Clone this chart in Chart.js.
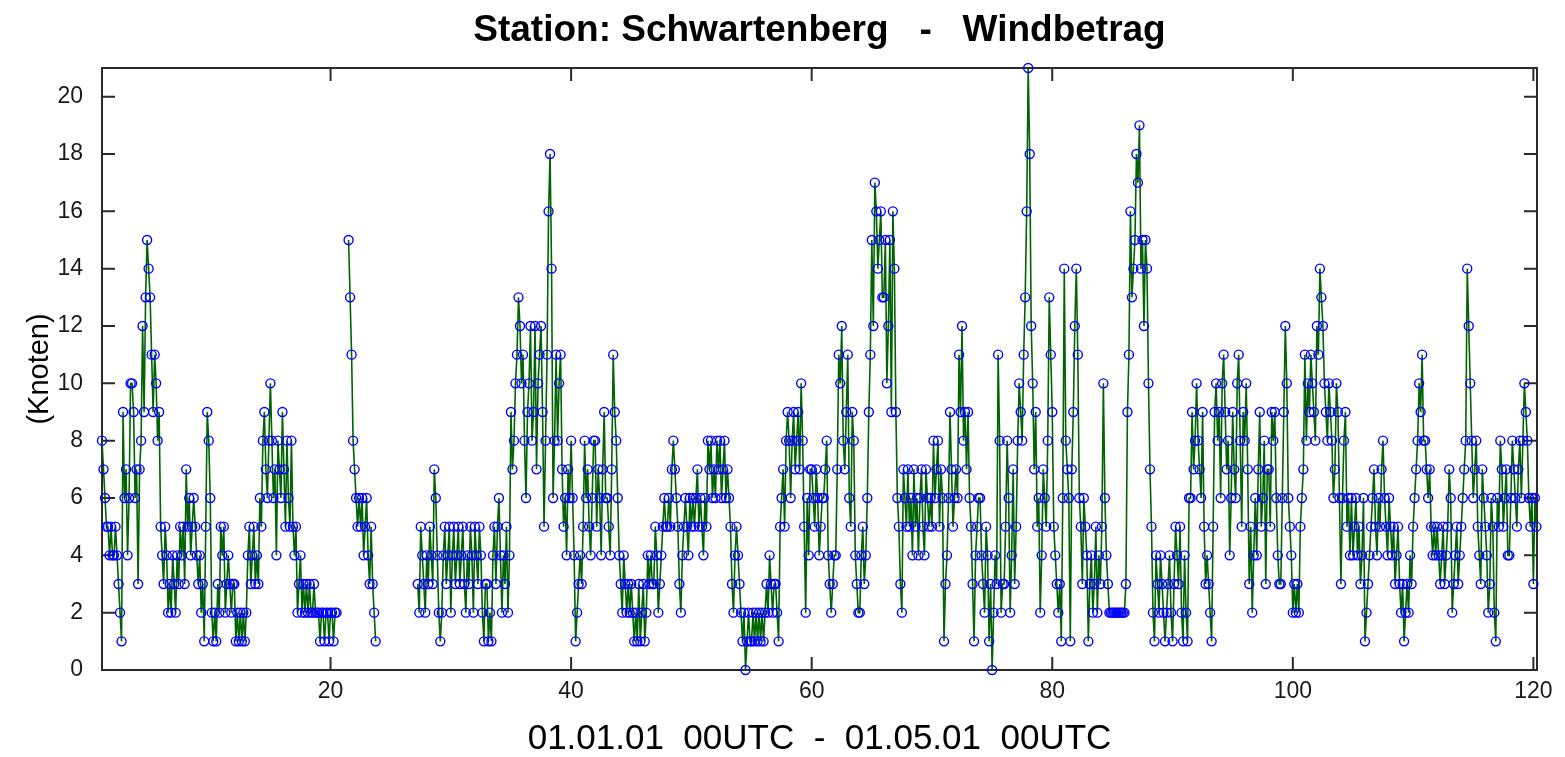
<!DOCTYPE html>
<html>
<head>
<meta charset="utf-8">
<title>Station: Schwartenberg - Windbetrag</title>
<script src="https://cdn.jsdelivr.net/npm/chart.js@4.4.1/dist/chart.umd.min.js"></script>
<style>
  html, body { margin: 0; padding: 0; background: #fff; }
  #wrap { width: 1565px; height: 757px; }
</style>
</head>
<body>
<div id="wrap"><canvas id="wind"></canvas></div>
<script>
// wind speed (knots), one reading every 3 hours starting at day 1, null = no data
const startDay = 1;
const stepDays = 0.125;

const days001to010 = [
  8,7,6,5,5,4,5,4, 4,5,4,3,2,1,9,6, 7,4,6,10,10,9,6,7, 3,7,8,12,9,13,15,14, 13,11,9,11,10,8,9,5,
  4,3,5,4,2,3,2,4, 3,2,4,3,5,4,5,3, 7,5,6,4,5,6,5,4, 3,4,2,3,1,5,9,8, 6,2,1,2,1,3,2,5,
];
const days011to020 = [
  4,5,2,3,4,3,2,3, 3,1,2,1,2,1,2,1, 2,4,5,3,4,5,3,4, 3,6,5,8,9,7,6,8, 10,8,6,7,4,8,7,6,
  9,7,5,8,6,5,8,5, 4,5,2,3,4,2,3,2, 3,2,3,2,2,3,2,2, 2,1,2,2,1,2,2,1, 2,2,1,2,2,null,null,null,
];
const days021to030 = [
  null,null,null,null,15,13,11,8, 7,6,5,6,5,6,4,5, 6,4,3,5,3,2,1,null,
  null,null,null,null,null,null,null,null, null,null,null,null,null,null,null,null,
  null,null,null,null,null,null,null,null, null,null,3,2,5,4,3,2,
  4,3,5,4,3,7,6,4, 2,1,2,4,5,3,4,5, 2,4,5,3,4,5,3,4,
];
const days031to040 = [
  5,3,2,4,3,5,4,2, 5,4,3,5,4,2,1,3, 3,1,2,1,4,5,3,5, 6,4,2,4,3,5,2,4, 9,7,8,10,11,13,12,10,
  11,8,6,9,10,12,8,9, 12,7,10,11,12,9,5,8, 11,16,18,14,6,8,11,8, 10,11,7,5,6,4,7,6, 8,6,4,1,2,3,4,3,
];
const days041to050 = [
  5,8,6,7,5,4,6,8, 8,5,7,6,4,7,9,6, 6,5,4,7,11,9,8,6, 4,3,2,4,3,2,3,2, 3,2,1,2,1,3,1,2,
  3,1,2,4,3,4,3,3, 5,4,2,3,4,5,6,5, 5,6,5,7,8,7,6,5, 3,2,4,5,6,5,4,6, 5,6,5,6,7,5,6,5,
];
const days051to060 = [
  4,6,5,8,7,8,6,7, 6,8,7,8,6,7,8,6, 7,6,5,3,2,4,5,4, 3,2,1,2,0,1,2,1, 1,2,1,2,1,2,1,2,
  1,2,3,2,4,3,2,3, 3,2,1,5,6,7,5,8, 9,8,6,8,9,7,8,9, 7,10,8,5,2,6,4,7, 7,6,5,7,6,4,5,6,
];
const days061to070 = [
  6,7,8,4,3,2,3,4, 4,7,11,10,12,8,7,9, 11,6,5,9,8,4,3,2, 2,4,5,3,4,6,9,11, 15,12,17,16,14,15,16,13,
  13,15,10,12,15,9,16,14, 9,6,5,3,2,7,6,5, 7,5,6,4,7,5,6,4, 6,7,5,4,7,6,5,6, 5,8,6,7,8,5,7,6,
];
const days071to080 = [
  1,3,4,6,9,7,5,6, 7,6,11,9,12,8,9,7, 9,6,5,3,1,4,5,6, 6,4,3,2,5,4,1,3, 0,2,4,3,11,8,2,3,
  3,5,8,6,2,4,7,3, 5,8,10,9,8,11,13,16, 21,18,12,10,7,9,5,6, 2,4,7,6,5,8,13,11, 9,5,4,3,2,3,1,6,
];
const days081to090 = [
  14,8,7,6,1,7,9,12, 14,11,6,5,3,6,5,4, 1,3,4,2,3,5,2,4, 3,5,10,6,4,3,2,2, 2,2,2,2,2,2,2,2,
  2,3,9,11,16,13,14,15, 18,17,19,14,15,12,15,14, 10,7,5,2,1,4,3,2, 4,3,2,1,2,3,4,2, 1,3,5,4,3,5,2,1,
];
const days091to100 = [
  4,2,1,6,6,9,7,8, 10,8,7,6,9,5,3,4, 3,2,1,5,9,10,8,9, 6,10,11,9,7,8,4,6, 9,7,6,10,11,8,5,9,
  8,10,7,3,5,2,4,6, 4,7,9,5,6,8,3,7, 7,5,9,8,9,6,4,3, 3,6,9,12,10,6,5,4, 2,3,2,3,2,5,6,7,
];
const days101to110 = [
  11,8,10,9,11,10,9,8, 12,11,14,13,12,10,9,8, 10,9,8,6,7,10,9,6, 3,6,8,9,5,6,4,6, 4,5,6,4,5,3,4,6,
  1,2,3,4,5,6,7,5, 4,6,5,7,8,6,5,4, 6,5,4,5,3,4,5,3, 2,3,1,2,3,2,4,3, 5,6,7,8,10,9,11,8,
];
const days111to120 = [
  8,7,6,7,5,4,5,4, 5,4,3,4,5,3,4,5, 7,6,2,3,4,5,3,4, 5,6,7,8,14,12,10,8, 6,7,8,5,4,3,7,6,
  5,4,2,3,6,5,2,1, 6,5,8,7,5,6,7,4, 4,6,8,7,6,5,7,8, 6,8,10,9,8,6,5,6, 3,6,5,
];

const xTicks = [20, 40, 60, 80, 100, 120];
const yTicks = [0, 2, 4, 6, 8, 10, 12, 14, 16, 18, 20];

const chartTitle = "Station: Schwartenberg   -   Windbetrag";
const xTitle = "01.01.01  00UTC  -  01.05.01  00UTC";
const yTitle = "(Knoten)";

const speeds = [].concat(
  days001to010, days011to020, days021to030, days031to040,
  days041to050, days051to060, days061to070, days071to080,
  days081to090, days091to100, days101to110, days111to120
);
const points = speeds.map((v, i) => ({ x: startDay + i * stepDays, y: v }));

const font = "'Liberation Sans', Arial, sans-serif";

// box round the plot with inward ticks on all four sides, title centred over the plot
const matlabFrame = {
  id: "matlabFrame",
  beforeDatasetsDraw(chart) {
    const { ctx, chartArea: a, scales } = chart;
    const len = 13;
    ctx.save();
    ctx.strokeStyle = "#2a2a2a";
    ctx.lineWidth = 2;
    ctx.strokeRect(a.left, a.top, a.right - a.left, a.bottom - a.top);
    ctx.beginPath();
    scales.x.ticks.forEach((t) => {
      const px = scales.x.getPixelForValue(t.value);
      ctx.moveTo(px, a.bottom);
      ctx.lineTo(px, a.bottom - len);
      ctx.moveTo(px, a.top);
      ctx.lineTo(px, a.top + len);
    });
    scales.y.ticks.forEach((t) => {
      const py = scales.y.getPixelForValue(t.value);
      ctx.moveTo(a.left, py);
      ctx.lineTo(a.left + len, py);
      ctx.moveTo(a.right, py);
      ctx.lineTo(a.right - len, py);
    });
    ctx.stroke();

    ctx.fillStyle = "#000";
    ctx.font = "bold 37px " + font;
    ctx.textAlign = "center";
    ctx.textBaseline = "middle";
    ctx.fillText(chartTitle, (a.left + a.right) / 2, 31);
    ctx.restore();
  },
};

new Chart(document.getElementById("wind"), {
  type: "line",
  data: {
    datasets: [
      {
        data: points,
        borderColor: "#006400",
        borderWidth: 1.6,
        pointRadius: 4.5,
        pointBorderColor: "#0000ff",
        pointBackgroundColor: "rgba(0,0,0,0)",
        pointBorderWidth: 1.4,
        tension: 0,
        spanGaps: false,
        clip: false,
      },
    ],
  },
  options: {
    responsive: true,
    maintainAspectRatio: false,
    animation: false,
    layout: { padding: { left: 0, right: 28, top: 68, bottom: 0 } },
    scales: {
      x: {
        type: "linear",
        min: 1,
        max: 120.3,
        afterBuildTicks: (s) => {
          s.ticks = xTicks.map((v) => ({ value: v }));
        },
        afterFit: (s) => {
          s.height = 87;
        },
        grid: { display: false, drawTicks: false },
        border: { display: false },
        ticks: {
          color: "#1a1a1a",
          padding: 8,
          maxRotation: 0,
          font: { family: font, size: 23 },
        },
        title: {
          display: true,
          text: xTitle,
          color: "#000",
          padding: { top: 0, bottom: 0 },
          font: { family: font, size: 35, lineHeight: 1 },
        },
      },
      y: {
        min: 0,
        max: 21,
        afterBuildTicks: (s) => {
          s.ticks = yTicks.map((v) => ({ value: v }));
        },
        afterFit: (s) => {
          s.width = 102;
        },
        grid: { display: false, drawTicks: false },
        border: { display: false },
        ticks: {
          color: "#1a1a1a",
          padding: 19,
          font: { family: font, size: 23 },
        },
        title: {
          display: true,
          text: yTitle,
          color: "#000",
          padding: { top: 23, bottom: 0 },
          font: { family: font, size: 29, lineHeight: 1.2 },
        },
      },
    },
    plugins: {
      legend: { display: false },
      tooltip: { enabled: false },
      title: { display: false },
    },
  },
  plugins: [matlabFrame],
});
</script>
</body>
</html>
